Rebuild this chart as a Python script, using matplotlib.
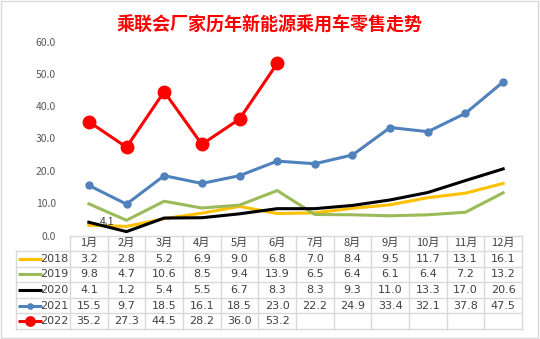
import matplotlib
matplotlib.use("Agg")
import matplotlib.pyplot as plt
from matplotlib.patches import Rectangle

plt.rcParams['font.family'] = ['Noto Sans CJK SC', 'DejaVu Sans']

# monthly retail figures per year
months = ['1月', '2月', '3月', '4月', '5月', '6月', '7月', '8月', '9月', '10月', '11月', '12月']
years = ['2018', '2019', '2020', '2021', '2022']
s2018 = [3.2, 2.8, 5.2, 6.9, 9.0, 6.8, 7.0, 8.4, 9.5, 11.7, 13.1, 16.1]
s2019 = [9.8, 4.7, 10.6, 8.5, 9.4, 13.9, 6.5, 6.4, 6.1, 6.4, 7.2, 13.2]
s2020 = [4.1, 1.2, 5.4, 5.5, 6.7, 8.3, 8.3, 9.3, 11.0, 13.3, 17.0, 20.6]
s2021 = [15.5, 9.7, 18.5, 16.1, 18.5, 23.0, 22.2, 24.9, 33.4, 32.1, 37.8, 47.5]
s2022 = [35.2, 27.3, 44.5, 28.2, 36.0, 53.2]
yticks = [0, 10, 20, 30, 40, 50, 60]

series = [s2018, s2019, s2020, s2021, s2022]
colors = ['#FFC000', '#9BBB59', '#000000', '#4F81BD', '#FF0000']
markers = [None, None, None, 'o', 'o']
msizes = [0, 0, 0, 5, 9]
lwidths = [2.2, 2.2, 2.2, 2.2, 2.2]
numfont = ['DejaVu Sans']

W, H = 540, 339
fig = plt.figure(figsize=(W / 100, H / 100), dpi=100)
fig.patches.append(Rectangle((0.002, 0.003), 0.995, 0.994, transform=fig.transFigure,
                             fill=False, ec='#D9D9D9', lw=1))

x0, x1 = 70, 522
ytop, ybot, tbot = 41.5, 235.5, 329
ax = fig.add_axes([x0 / W, 1 - ybot / H, (x1 - x0) / W, (ybot - ytop) / H])
ax.set_xlim(-0.5, 11.5)
ax.set_ylim(0, 60)
for sp in ax.spines.values():
    sp.set_visible(False)
ax.set_xticks([])
ax.set_yticks(yticks)
ax.set_yticklabels(['%.1f' % v for v in yticks], fontsize=7.5, color='#595959')
ax.tick_params(axis='y', length=0, pad=10)

for s, c, m, ms, lw in zip(series, colors, markers, msizes, lwidths):
    ax.plot(range(len(s)), s, color=c, lw=lw, marker=m, ms=ms, clip_on=False)

ax.text(0.3, s2020[0], '%.1f' % s2020[0], fontsize=7.5, color='#404040', va='center', ha='left')

fig.suptitle('乘联会厂家历年新能源乘用车零售走势', x=0.5, y=1 - 25 / H, va='center',
             color='#FF0000', fontsize=13, fontweight='bold')

# data table under the chart
tax = fig.add_axes([x0 / W, 1 - tbot / H, (x1 - x0) / W, (tbot - ybot) / H])
tax.set_xlim(-0.5, 11.5)
tax.set_ylim(6, 0)
tax.axis('off')
grid = '#D9D9D9'
left = -0.5 - (x0 - 15.7) / ((x1 - x0) / 12)
for r in range(7):
    xa = -0.5 if r == 0 else left
    tax.plot([xa, 11.5], [r, r], color=grid, lw=1, clip_on=False)
tax.plot([left, left], [1, 6], color=grid, lw=1, clip_on=False)
for c in range(13):
    tax.plot([c - 0.5, c - 0.5], [0, 6], color=grid, lw=1, clip_on=False)

for i, m in enumerate(months):
    tax.text(i, 0.5, m, ha='center', va='center', fontsize=8, color='#404040')
for r, (yr, s) in enumerate(zip(years, series)):
    row = r + 1.5
    for i, v in enumerate(s):
        tax.text(i, row, '%.1f' % v, ha='center', va='center', fontsize=8, color='#404040',
                 family=numfont)
    tax.text(-0.55, row, yr, ha='right', va='center', fontsize=8, color='#404040',
             family=numfont)
    xa = left + 0.05
    xb = left + 0.7
    tax.plot([xa, xb], [row, row], color=colors[r], lw=lwidths[r], clip_on=False,
             solid_capstyle='butt')
    if markers[r]:
        tax.plot([(xa + xb) / 2], [row], color=colors[r], marker='o', ms=msizes[r] * 0.75,
                 clip_on=False)

fig.savefig('out.png', dpi=100)
